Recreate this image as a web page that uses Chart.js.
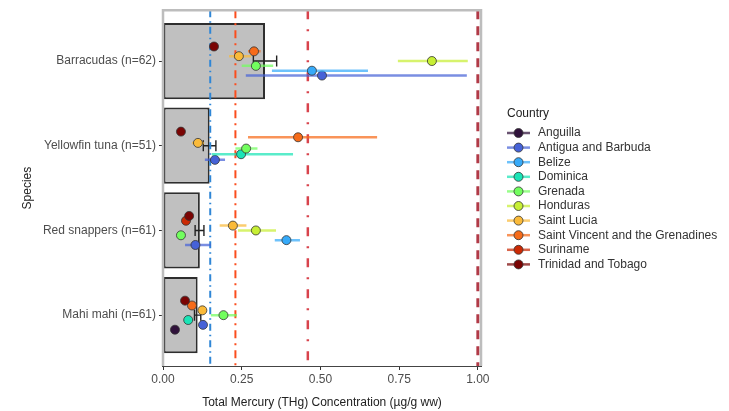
<!DOCTYPE html>
<html>
<head>
<meta charset="utf-8">
<script src="https://cdn.jsdelivr.net/npm/chart.js@4.4.1/dist/chart.umd.min.js"></script>
<style>
  html, body { margin: 0; padding: 0; background: #ffffff; }
  #chart { display: block; }
</style>
</head>
<body>
<canvas id="chart" width="729" height="411"></canvas>
<script>
const species = ["Barracudas (n=62)", "Yellowfin tuna (n=51)", "Red snappers (n=61)", "Mahi mahi (n=61)"];
const speciesMean = [0.324, 0.148, 0.117, 0.110];
const speciesLow = [0.287, 0.128, 0.102, 0.100];
const speciesHigh = [0.361, 0.168, 0.130, 0.120];

const countries = [
  "Anguilla", "Antigua and Barbuda", "Belize", "Dominica", "Grenada",
  "Honduras", "Saint Lucia", "Saint Vincent and the Grenadines", "Suriname", "Trinidad and Tobago",
];
const countryColors = [
  "#30123b", "#4662d7", "#36aaf9", "#1ae4b6", "#72fe5e",
  "#c7ef34", "#faba39", "#f66b19", "#cb2a04", "#7a0403",
];

// one row per country, one column per species (null = not sampled)
const countryMean = [
  [null, null, null, 0.038],     // Anguilla
  [0.505, 0.165, 0.103, 0.127],  // Antigua and Barbuda
  [0.473, null, 0.392, null],    // Belize
  [null, 0.248, null, 0.080],    // Dominica
  [0.295, 0.264, 0.057, 0.192],  // Grenada
  [0.854, null, 0.295, null],    // Honduras
  [0.241, 0.111, 0.222, 0.125],  // Saint Lucia
  [0.289, 0.429, null, 0.092],   // Saint Vincent and the Grenadines
  [null, null, 0.073, null],     // Suriname
  [0.162, 0.057, 0.083, 0.070],  // Trinidad and Tobago
];
const countryLow = [
  [null, null, null, 0.038],
  [0.263, 0.133, 0.070, 0.118],
  [0.346, null, 0.355, null],
  [null, 0.155, null, 0.075],
  [0.250, 0.230, 0.057, 0.152],
  [0.746, null, 0.238, null],
  [0.210, 0.092, 0.180, 0.112],
  [0.270, 0.270, null, 0.085],
  [null, null, 0.073, null],
  [0.162, 0.057, 0.083, 0.070],
];
const countryHigh = [
  [null, null, null, 0.038],
  [0.965, 0.197, 0.152, 0.136],
  [0.651, null, 0.435, null],
  [null, 0.413, null, 0.085],
  [0.350, 0.300, 0.057, 0.235],
  [0.968, null, 0.359, null],
  [0.280, 0.130, 0.265, 0.138],
  [0.310, 0.680, null, 0.099],
  [null, null, 0.073, null],
  [0.162, 0.057, 0.083, 0.070],
];

const refLines = [0.15, 0.23, 0.46, 1.0];
const refColors = ["#2f86d6", "#fb4d1d", "#d8434c", "#b13a47"];
const refDashes = [[7, 4, 1.5, 4], [8, 5, 2, 5], [9, 10, 2, 10], [9, 7]];
const refWidths = [2, 2, 2.5, 3];

const xTicks = [0, 0.25, 0.5, 0.75, 1];

const FONT = "'Liberation Sans', Arial, sans-serif";
const DODGE = 0.4;

function alpha(hex, a) {
  const n = parseInt(hex.slice(1), 16);
  return `rgba(${(n >> 16) & 255}, ${(n >> 8) & 255}, ${n & 255}, ${a})`;
}

// position_dodge: spread the countries present in each species row
function dodgeOffset(s, c) {
  const present = countries.map((_, i) => i).filter((i) => countryMean[i][s] !== null);
  const n = present.length;
  const r = present.indexOf(c);
  return DODGE / 2 - (DODGE / n) * (r + 0.5);
}

const countryDatasets = countries.map((name, c) => {
  const data = [];
  species.forEach((_, s) => {
    if (countryMean[c][s] === null) return;
    data.push({ x: countryMean[c][s], y: s + dodgeOffset(s, c), lo: countryLow[c][s], hi: countryHigh[c][s] });
  });
  return {
    type: "scatter",
    label: name,
    data,
    errorColor: alpha(countryColors[c], 0.72),
    pointRadius: 4.5,
    pointBackgroundColor: countryColors[c],
    pointBorderColor: "#333333",
    pointBorderWidth: 0.8,
    order: countries.length - c,
  };
});

const refDatasets = refLines.map((v, i) => ({
  type: "line",
  label: "ref" + i,
  data: [{ x: v, y: -0.6 }, { x: v, y: 3.6 }],
  borderColor: refColors[i],
  borderWidth: refWidths[i],
  borderDash: refDashes[i],
  pointRadius: 0,
  fill: false,
  order: 15,
}));

const barDataset = {
  type: "bar",
  label: "mean",
  indexAxis: "y",
  data: species.map((_, i) => ({ x: speciesMean[i], y: i, lo: speciesLow[i], hi: speciesHigh[i] })),
  backgroundColor: "#c0c0c0",
  borderColor: "#2e2e2e",
  borderWidth: 2,
  borderSkipped: false,
  barPercentage: 0.9,
  categoryPercentage: 1,
  isMeanBar: true,
  order: 20,
};

const errorBarPlugin = {
  id: "errorBars",
  beforeDatasetDraw(chart, args) {
    const ds = chart.data.datasets[args.index];
    if (!ds.errorColor) return;
    const { ctx, chartArea, scales: { x, y } } = chart;
    ctx.save();
    ctx.beginPath();
    ctx.rect(chartArea.left, chartArea.top, chartArea.right - chartArea.left, chartArea.bottom - chartArea.top);
    ctx.clip();
    ctx.strokeStyle = ds.errorColor;
    ctx.lineWidth = 2.5;
    ds.data.forEach((p) => {
      if (p.hi - p.lo < 0.002) return;
      const py = y.getPixelForValue(p.y);
      ctx.beginPath();
      ctx.moveTo(x.getPixelForValue(p.lo), py);
      ctx.lineTo(x.getPixelForValue(p.hi), py);
      ctx.stroke();
    });
    ctx.restore();
  },
  afterDatasetDraw(chart, args) {
    const ds = chart.data.datasets[args.index];
    if (!ds.isMeanBar) return;
    const { ctx, scales: { x, y } } = chart;
    const cap = Math.abs(y.getPixelForValue(0.065) - y.getPixelForValue(0));
    ctx.save();
    ctx.strokeStyle = "#222222";
    ctx.lineWidth = 1.4;
    ds.data.forEach((p) => {
      const py = y.getPixelForValue(p.y);
      const x0 = x.getPixelForValue(p.lo);
      const x1 = x.getPixelForValue(p.hi);
      ctx.beginPath();
      ctx.moveTo(x0, py);
      ctx.lineTo(x1, py);
      ctx.moveTo(x0, py - cap);
      ctx.lineTo(x0, py + cap);
      ctx.moveTo(x1, py - cap);
      ctx.lineTo(x1, py + cap);
      ctx.stroke();
    });
    ctx.restore();
  },
};

const panelPlugin = {
  id: "panelBorder",
  afterDraw(chart) {
    const { ctx, chartArea: a } = chart;
    ctx.save();
    ctx.strokeStyle = "#bdbdbd";
    ctx.lineWidth = 2.5;
    ctx.beginPath();
    ctx.moveTo(a.left, a.bottom);
    ctx.lineTo(a.left, a.top);
    ctx.lineTo(a.right, a.top);
    ctx.lineTo(a.right, a.bottom);
    ctx.stroke();
    ctx.strokeStyle = "#444444";
    ctx.lineWidth = 1;
    ctx.beginPath();
    ctx.moveTo(a.left - 1, a.bottom + 0.5);
    ctx.lineTo(a.right + 1, a.bottom + 0.5);
    ctx.stroke();
    ctx.restore();
  },
};

const legendPlugin = {
  id: "countryLegend",
  afterDraw(chart) {
    const { ctx } = chart;
    const left = 507;
    const top = 133;
    const step = 14.6;
    ctx.save();
    ctx.font = `12px ${FONT}`;
    ctx.textBaseline = "middle";
    ctx.fillStyle = "#222222";
    ctx.fillText("Country", left, 114);
    countries.forEach((name, c) => {
      const cy = top + c * step;
      ctx.strokeStyle = alpha(countryColors[c], 0.72);
      ctx.lineWidth = 2.5;
      ctx.beginPath();
      ctx.moveTo(left, cy);
      ctx.lineTo(left + 23, cy);
      ctx.stroke();
      ctx.beginPath();
      ctx.arc(left + 11.5, cy, 4.5, 0, Math.PI * 2);
      ctx.fillStyle = countryColors[c];
      ctx.fill();
      ctx.strokeStyle = "#333333";
      ctx.lineWidth = 0.8;
      ctx.stroke();
      ctx.fillStyle = "#333333";
      ctx.fillText(name, left + 31, cy);
    });
    ctx.restore();
  },
};

new Chart(document.getElementById("chart"), {
  type: "scatter",
  data: { datasets: [...countryDatasets, ...refDatasets, barDataset] },
  plugins: [errorBarPlugin, panelPlugin, legendPlugin],
  options: {
    responsive: false,
    animation: false,
    events: [],
    layout: { padding: { left: 0, right: 248, top: 7, bottom: 0 } },
    plugins: {
      legend: { display: false },
      tooltip: { enabled: false },
    },
    scales: {
      x: {
        type: "linear",
        min: 0,
        max: 1.01,
        offset: false,
        afterBuildTicks: (scale) => { scale.ticks = xTicks.map((v) => ({ value: v })); },
        afterFit: (scale) => { scale.height = 45; },
        ticks: {
          callback: (v) => Number(v).toFixed(2),
          font: { family: FONT, size: 12 },
          color: "#4d4d4d",
          padding: 2,
          maxRotation: 0,
        },
        grid: { display: true, offset: false, drawOnChartArea: false, tickLength: 4, tickColor: "#333333" },
        border: { display: false },
        title: {
          display: true,
          text: "Total Mercury (THg) Concentration (µg/g ww)",
          font: { family: FONT, size: 12 },
          color: "#222222",
          padding: { top: 0, bottom: 1 },
        },
      },
      y: {
        type: "linear",
        reverse: true,
        min: -0.6,
        max: 3.6,
        offset: false,
        afterBuildTicks: (scale) => { scale.ticks = species.map((_, i) => ({ value: i })); },
        afterFit: (scale) => { scale.width = 163; },
        ticks: {
          callback: (v) => species[v],
          font: { family: FONT, size: 12 },
          color: "#4d4d4d",
          padding: 3,
        },
        grid: { display: true, offset: false, drawOnChartArea: false, tickLength: 4, tickColor: "#333333" },
        border: { display: false },
        title: {
          display: true,
          text: "Species",
          font: { family: FONT, size: 12 },
          color: "#222222",
          padding: { top: 20, bottom: 0 },
        },
      },
    },
  },
});
</script>
</body>
</html>
